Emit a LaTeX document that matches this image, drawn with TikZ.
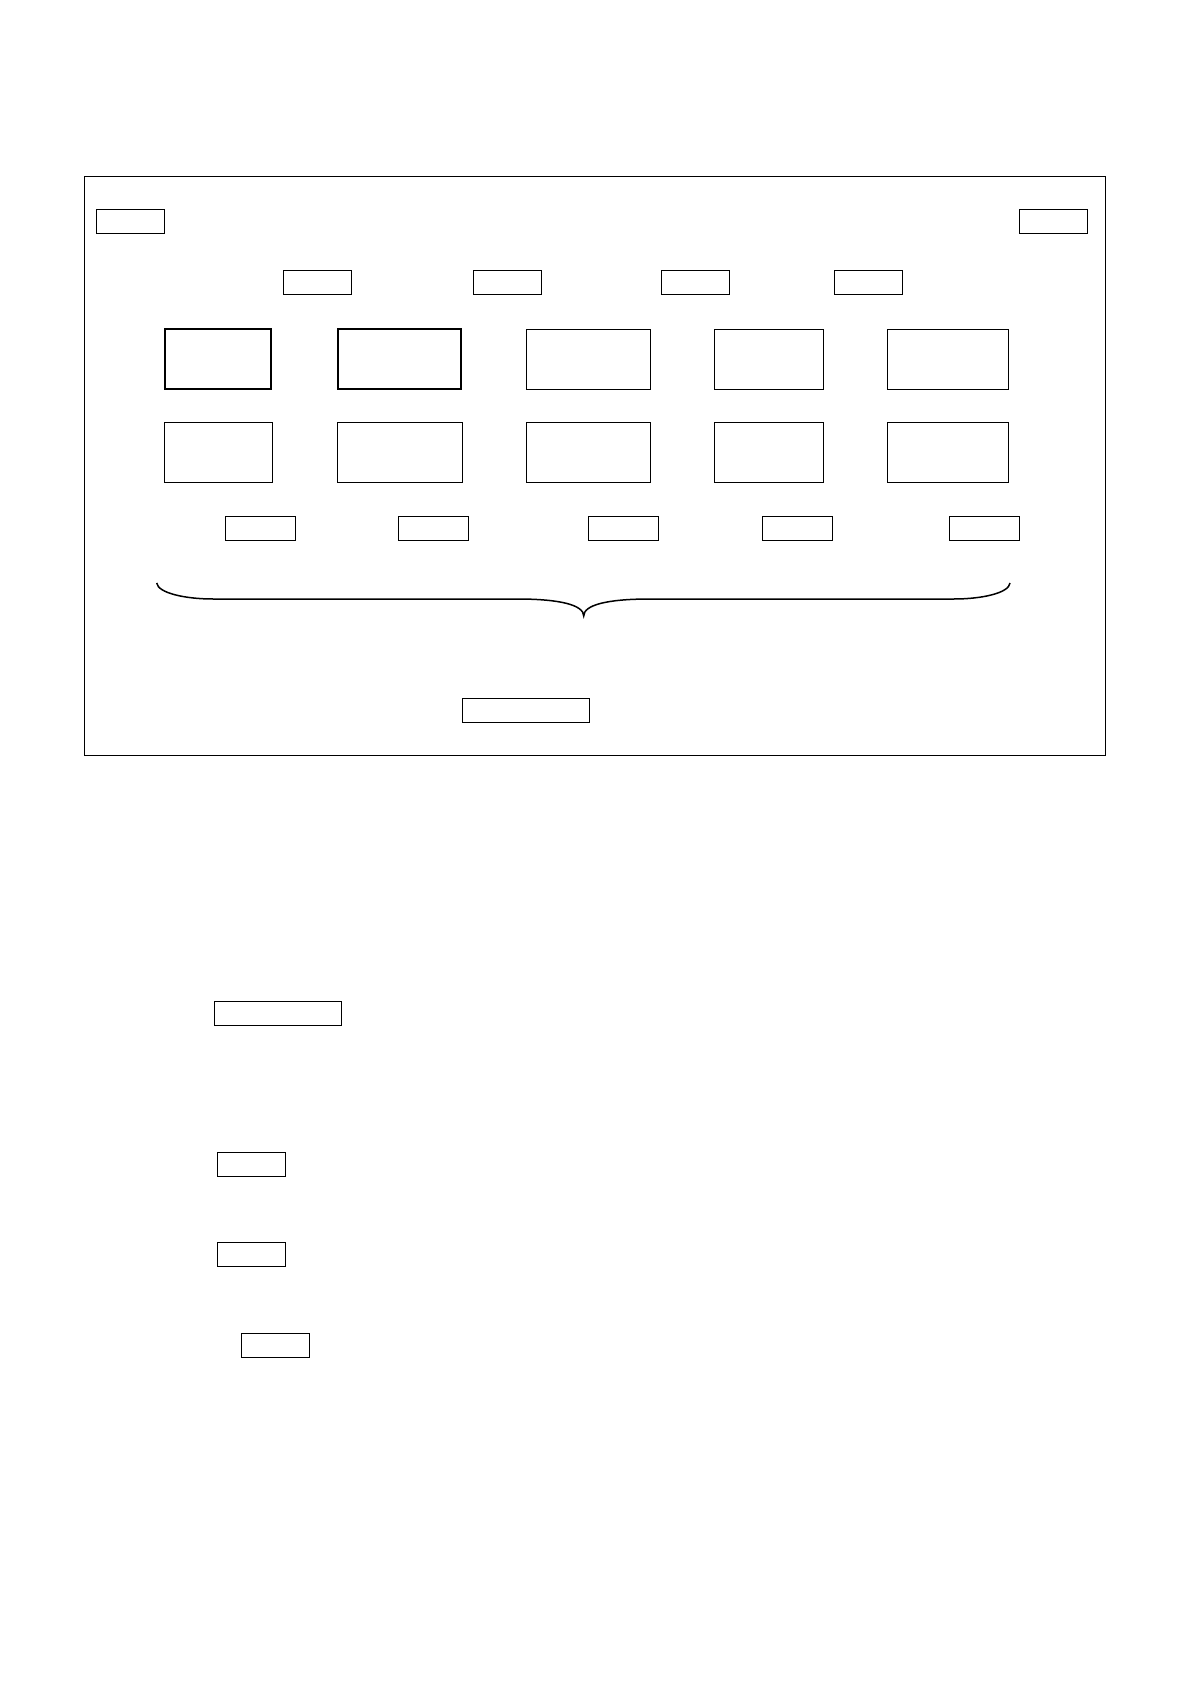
\documentclass[tikz,border=0pt]{standalone}
\usepackage{tikz}
\usetikzlibrary{positioning}
\tikzset{
  box/.style={draw,line width=0.5pt,inner sep=0pt,minimum width=34pt,minimum height=12pt},
  tagbox/.style={box,minimum width=35pt},
  widebox/.style={box,minimum width=63.5pt},
  bigbox/.style={box,minimum height=30pt},
  boldbox/.style={bigbox,line width=1pt},
}
\begin{document}
\begin{tikzpicture}[x=0.5pt,y=-0.5pt]
      \useasboundingbox (0,0) rectangle (1191,1684);
      % frame
      \node[box,minimum width=510.5pt,minimum height=289.5pt] (frame) at (595.3,466.3) {};
      \node[box] (tl) at (130.5,221.8) {};
      \node[box] (tr) at (1053.8,221.8) {};
      % first row of small boxes
      \foreach \x/\n in {317.5/1,507/2,695/3,868/4}
        \node[box] (h\n) at (\x,282.3) {};
      % big boxes
      \node[boldbox,minimum width=53.3pt] (a1) at (218,359.5) {};
      \node[boldbox,minimum width=61.8pt] (a2) at (399.5,359.5) {};
      \node[bigbox,minimum width=61.7pt] (a3) at (588.5,359.5) {};
      \node[bigbox,minimum width=54.2pt] (a4) at (769,359.5) {};
      \node[bigbox,minimum width=60.2pt] (a5) at (948,359.5) {};
      \node[bigbox,minimum width=53.7pt] (b1) at (218.5,452.8) {};
      \node[bigbox,minimum width=62.2pt] (b2) at (400,452.8) {};
      \node[bigbox,minimum width=61.7pt] (b3) at (588.5,452.8) {};
      \node[bigbox,minimum width=54.2pt] (b4) at (769,452.8) {};
      \node[bigbox,minimum width=60.2pt] (b5) at (948,452.8) {};
      % small boxes under the big ones
      \foreach \x/\n in {260.8/1,433.8/2,623.8/3,797/4,984.8/5}
        \node[tagbox] (c\n) at (\x,528.8) {};
      % brace
      \coordinate (bl) at (156.7,583);
      \coordinate (br) at (1010,583);
      \coordinate (tip) at (583.7,616);
      \draw[line width=0.75pt]
        (bl) .. controls (158,593) and (185,599) .. (213,599) -- (517,599)
        .. controls (560,599) and (583.7,605) .. (tip)
        .. controls (583.7,605) and (607,599) .. (650,599) -- (954,599)
        .. controls (982,599) and (1009,593) .. (br);
      \node[widebox] (total) at (526.3,710.3) {};
      % boxes below the frame
      \node[widebox] (w1) at (278,1013.2) {};
      \node[box] (k1) at (251,1164.3) {};
      \node[box] (k2) at (251.8,1254.7) {};
      \node[box] (k3) at (275.8,1345.3) {};
    \end{tikzpicture}
\end{document}
